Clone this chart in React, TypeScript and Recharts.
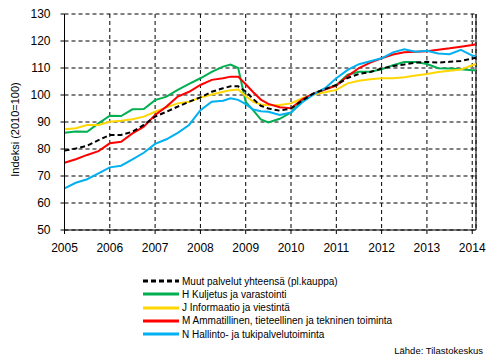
import React from 'react';
import { LineChart, Line, XAxis, YAxis, CartesianGrid, ReferenceLine, Label } from 'recharts';

// months since Jan 2005
const months = [0, 3, 6, 9, 12, 15, 18, 21, 24, 27, 30, 33, 36, 39, 42, 44, 46, 48, 50, 52, 54, 57, 60, 63, 66, 69, 72, 75, 78, 81, 84, 87, 90, 93, 96, 99, 102, 105, 108, 109];

const muut = [79.4, 80.2, 81.2, 83.3, 85.2, 85.2, 86.4, 88.9, 92.0, 93.8, 95.7, 97.5, 99.1, 101.2, 102.5, 103.2, 103.2, 101.3, 98.5, 96.0, 95.0, 94.2, 95.0, 98.0, 100.6, 102.2, 103.7, 106.3, 107.8, 108.5, 109.8, 110.7, 111.3, 112.0, 112.3, 112.0, 112.3, 112.6, 113.5, 113.8];
const kuljetus = [86.0, 86.5, 86.4, 89.5, 92.3, 92.2, 94.7, 94.8, 98.1, 99.4, 101.9, 104.1, 106.2, 108.6, 110.5, 111.3, 110.0, 97.4, 94.3, 91.0, 89.8, 91.2, 93.5, 98.0, 100.4, 102.1, 103.7, 107.5, 108.6, 108.6, 109.5, 111.0, 112.2, 112.2, 111.5, 109.9, 109.8, 109.5, 109.2, 109.2];
const informaatio = [87.3, 87.7, 88.9, 88.9, 90.1, 90.5, 91.0, 92.0, 93.8, 95.4, 96.9, 97.5, 99.1, 100.2, 101.2, 101.8, 102.0, 99.6, 97.5, 96.5, 96.2, 96.3, 96.9, 98.8, 100.2, 101.0, 101.9, 104.3, 105.3, 105.8, 106.2, 106.2, 106.6, 107.2, 107.8, 108.5, 109.0, 109.4, 111.0, 111.5];
const ammatillinen = [74.9, 76.2, 77.8, 79.2, 82.1, 82.7, 85.8, 88.3, 92.6, 95.7, 99.4, 101.2, 103.7, 105.6, 106.2, 106.8, 106.8, 104.0, 101.0, 98.3, 96.7, 95.5, 95.1, 98.4, 100.6, 102.0, 103.5, 107.0, 110.0, 112.0, 113.6, 115.0, 115.8, 116.0, 116.2, 116.8, 117.3, 117.9, 118.5, 118.8];
const hallinto = [65.4, 67.5, 68.8, 71.0, 73.2, 73.8, 76.2, 78.6, 81.9, 83.6, 86.0, 88.9, 94.4, 97.5, 97.9, 98.8, 98.2, 96.6, 94.6, 94.0, 93.8, 92.6, 93.5, 97.3, 100.2, 102.5, 106.2, 109.3, 111.4, 112.5, 113.6, 115.8, 116.9, 116.0, 116.4, 115.4, 115.1, 116.7, 114.6, 114.4];

const xTicks = [0, 12, 24, 36, 48, 60, 72, 84, 96, 108];
const yTicks = [50, 60, 70, 80, 90, 100, 110, 120, 130];

const data = months.map((m, i) => ({
  m,
  muut: muut[i],
  kuljetus: kuljetus[i],
  informaatio: informaatio[i],
  ammatillinen: ammatillinen[i],
  hallinto: hallinto[i],
}));

const series = [
  { key: 'muut', name: 'Muut palvelut yhteensä (pl.kauppa)', color: '#000000', dash: '5 3' },
  { key: 'kuljetus', name: 'H Kuljetus ja varastointi', color: '#00b050', dash: undefined },
  { key: 'informaatio', name: 'J Informaatio ja viestintä', color: '#ffd700', dash: undefined },
  { key: 'ammatillinen', name: 'M Ammatillinen, tieteellinen ja tekninen toiminta', color: '#ff0000', dash: undefined },
  { key: 'hallinto', name: 'N Hallinto- ja tukipalvelutoiminta', color: '#00b0f0', dash: undefined },
];

const font = 'Arial, "Liberation Sans", sans-serif';

const App: React.FC = () => {
  return (
    <div style={{ position: 'absolute', left: 0, top: 0, width: 498, height: 361, background: '#fff', fontFamily: font }}>
      <LineChart width={498} height={361} data={data} margin={{ top: 14, right: 22, bottom: 101, left: 0 }}>
        <CartesianGrid stroke="#000" strokeDasharray="4 3" strokeWidth={1} />
        <XAxis
          dataKey="m"
          type="number"
          domain={[0, 109]}
          ticks={xTicks}
          tickFormatter={(v: number) => String(2005 + v / 12)}
          height={30}
          tickSize={4}
          tickMargin={9}
          stroke="#000"
          tick={{ fill: '#000', fontSize: 12, fontFamily: font }}
        />
        <YAxis
          domain={[50, 130]}
          ticks={yTicks}
          width={64.5}
          tickSize={4}
          tickMargin={10}
          stroke="#000"
          tick={{ fill: '#000', fontSize: 12, fontFamily: font }}
        >
          <Label
            content={() => (
              <text x={15} y={129.5} transform="rotate(-90 15 129.5)" textAnchor="middle" dominantBaseline="central" fontSize={11} fontFamily={font} fill="#000">
                Indeksi (2010=100)
              </text>
            )}
          />
        </YAxis>
        <ReferenceLine x={109} stroke="#000" strokeWidth={1} />
        {series.slice(1).map((s) => (
          <Line key={s.key} type="linear" dataKey={s.key} name={s.name} stroke={s.color} strokeWidth={2} dot={false} isAnimationActive={false} />
        ))}
        <Line type="linear" dataKey="muut" name={series[0].name} stroke="#000" strokeWidth={2} strokeDasharray="5 3" dot={false} isAnimationActive={false} />
      </LineChart>
      {series.map((s, i) => (
        <div key={s.key} style={{ position: 'absolute', left: 143, top: 274 + i * 13.3, height: 14, display: 'flex', alignItems: 'center', fontSize: 10, color: '#000', whiteSpace: 'nowrap' }}>
          <svg width={36} height={4} style={{ marginRight: 3 }}>
            <line x1={0} y1={2} x2={36} y2={2} stroke={s.color} strokeWidth={3} strokeDasharray={s.dash} />
          </svg>
          <span>{s.name}</span>
        </div>
      ))}
      <div style={{ position: 'absolute', right: 15, top: 345, fontSize: 9.5, color: '#000', whiteSpace: 'nowrap' }}>
        Lähde: Tilastokeskus
      </div>
    </div>
  );
};

export default App;
